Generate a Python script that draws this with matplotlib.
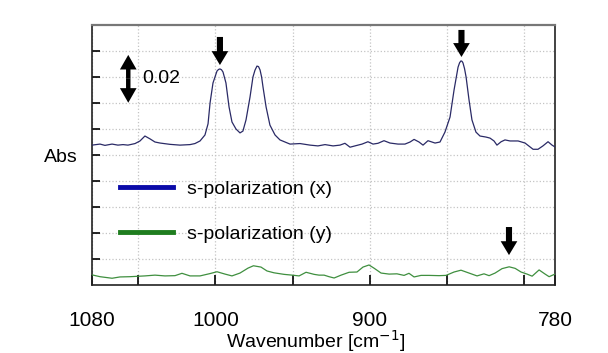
import matplotlib
matplotlib.use("Agg")

import matplotlib.pyplot as plt
from matplotlib.lines import Line2D

plt.rcParams["font.family"] = ["Liberation Sans", "DejaVu Sans"]

# s-polarization (x): wavenumber [cm-1] and absorbance
wn_x = [
    1080.0, 1074.8, 1071.6, 1067.0, 1063.2, 1059.9, 1056.7, 1052.1, 1048.9, 1045.7,
    1042.4, 1039.2, 1035.9, 1029.5, 1023.0, 1016.5, 1013.3, 1010.0, 1006.8, 1004.8,
    1003.5, 1001.6, 999.0, 998.0, 997.1, 996.1, 995.1, 993.2, 991.2, 989.3,
    986.7, 984.1, 982.2, 980.2, 977.6, 975.7, 974.4, 973.1, 972.1, 971.1,
    970.1, 969.2, 967.2, 964.7, 961.4, 958.2, 951.7, 945.2, 938.7, 933.6,
    929.0, 923.8, 919.3, 916.1, 912.8, 909.6, 905.0, 901.2, 897.9, 894.7,
    890.8, 886.9, 881.7, 877.2, 873.9, 871.3, 868.1, 865.5, 862.3, 857.7,
    854.5, 851.3, 848.0, 845.4, 842.8, 841.8, 840.9, 840.2, 839.6, 838.6,
    837.6, 835.7, 833.8, 831.2, 828.6, 824.7, 822.1, 819.5, 817.6, 814.9,
    812.4, 809.1, 803.9, 799.4, 794.2, 791.0, 787.8, 784.5, 781.9, 780.0,
]
abs_x = [
    0.0538, 0.0542, 0.0537, 0.0542, 0.0538, 0.0540, 0.0538, 0.0544, 0.0554, 0.0573,
    0.0562, 0.0550, 0.0546, 0.0541, 0.0538, 0.0540, 0.0544, 0.0554, 0.0577, 0.0620,
    0.0700, 0.0777, 0.0823, 0.0829, 0.0831, 0.0828, 0.0819, 0.0777, 0.0685, 0.0627,
    0.0600, 0.0585, 0.0592, 0.0635, 0.0723, 0.0800, 0.0826, 0.0842, 0.0840, 0.0827,
    0.0800, 0.0762, 0.0685, 0.0615, 0.0577, 0.0558, 0.0542, 0.0544, 0.0538, 0.0535,
    0.0540, 0.0535, 0.0538, 0.0545, 0.0530, 0.0535, 0.0542, 0.0551, 0.0542, 0.0545,
    0.0555, 0.0546, 0.0542, 0.0542, 0.0550, 0.0560, 0.0550, 0.0538, 0.0555, 0.0546,
    0.0550, 0.0588, 0.0646, 0.0750, 0.0838, 0.0855, 0.0862, 0.0860, 0.0854, 0.0832,
    0.0800, 0.0712, 0.0635, 0.0588, 0.0573, 0.0569, 0.0565, 0.0554, 0.0538, 0.0551,
    0.0558, 0.0554, 0.0554, 0.0546, 0.0522, 0.0522, 0.0535, 0.0551, 0.0538, 0.0531,
]

# s-polarization (y)
wn_y = [
    1080.0, 1074.8, 1067.0, 1061.9, 1055.4, 1045.7, 1039.2, 1032.7, 1026.2, 1021.7,
    1016.5, 1010.0, 1003.5, 999.0, 993.8, 989.3, 984.1, 978.9, 975.4, 970.5,
    966.6, 962.1, 955.6, 950.4, 945.8, 941.3, 936.1, 932.9, 929.6, 926.4,
    923.1, 918.6, 913.4, 908.3, 904.4, 900.5, 897.3, 892.7, 887.5, 882.4,
    877.8, 874.6, 871.3, 866.8, 861.6, 855.1, 850.6, 845.4, 840.9, 835.7,
    830.5, 826.0, 822.7, 818.8, 814.3, 809.7, 805.8, 802.0, 798.1, 794.8,
    790.3, 786.4, 783.8, 780.0,
]
abs_y = [
    0.0039, 0.0032, 0.0026, 0.0031, 0.0032, 0.0035, 0.0038, 0.0035, 0.0036, 0.0045,
    0.0035, 0.0035, 0.0044, 0.0051, 0.0042, 0.0035, 0.0046, 0.0065, 0.0074, 0.0069,
    0.0054, 0.0047, 0.0041, 0.0038, 0.0035, 0.0049, 0.0041, 0.0038, 0.0038, 0.0032,
    0.0027, 0.0038, 0.0049, 0.0050, 0.0069, 0.0077, 0.0065, 0.0046, 0.0042, 0.0043,
    0.0037, 0.0045, 0.0031, 0.0037, 0.0037, 0.0036, 0.0037, 0.0050, 0.0057, 0.0046,
    0.0035, 0.0043, 0.0036, 0.0046, 0.0063, 0.0070, 0.0064, 0.0050, 0.0042, 0.0034,
    0.0058, 0.0042, 0.0032, 0.0042,
]

labelled_ticks = [1080, 1000, 900, 780]
minor_ticks = [1050, 950, 850, 800]
y_grid = [0.01, 0.02, 0.03, 0.04, 0.05, 0.06, 0.07, 0.08, 0.09]

fig = plt.figure(figsize=(6.08, 3.53), dpi=100)
ax = fig.add_axes([0.1513, 0.1926, 0.7615, 0.7366])

ax.plot(wn_x, abs_x, color="#2a2a66", lw=0.9, zorder=3)
ax.plot(wn_y, abs_y, color="#3f8f3f", lw=0.9, zorder=3)

ax.set_xlim(1080, 780)
ax.set_ylim(0, 0.1)

ax.set_xticks(labelled_ticks)
ax.set_xticklabels([str(t) for t in labelled_ticks])
ax.set_xticks(minor_ticks, minor=True)
ax.set_yticks(y_grid)
ax.set_yticklabels([])
ax.tick_params(axis="x", which="both", direction="in", length=7, width=1.2,
               pad=19, labelsize=15)
ax.tick_params(axis="y", direction="in", length=5.5, width=1.2)

ax.grid(True, which="both", color="#c4c4c4", linestyle=":", linewidth=0.9)

for side in ("left", "right", "bottom"):
    ax.spines[side].set_linewidth(1.2)
    ax.spines[side].set_color("#222222")
ax.spines["top"].set_linewidth(1.6)
ax.spines["top"].set_color("#777777")

ax.set_xlabel(r"Wavenumber [cm$^{-1}$]", fontsize=14)
ax.xaxis.set_label_coords(0.484, -0.166)
ax.set_ylabel("Abs", fontsize=14, rotation=0, va="center", ha="center")
ax.yaxis.set_label_coords(-0.067, 0.492)

# peak markers
down_arrows = [(997.1, 0.0954, 0.0846), (840.6, 0.0981, 0.0877), (809.8, 0.0223, 0.0115)]
style = "simple,head_width=1.2,head_length=1.0,tail_width=0.44"
for x, y0, y1 in down_arrows:
    ax.annotate("", xy=(x, y1), xytext=(x, y0),
                arrowprops=dict(arrowstyle=style, color="black", lw=0,
                                shrinkA=0, shrinkB=0, mutation_scale=10))

# 0.02 scale bar
bar_x, bar_mid, bar_lo, bar_hi = 1056.5, 0.0793, 0.0701, 0.0885
bar_style = "simple,head_width=1.2,head_length=1.05,tail_width=0.32"
for tip in (bar_lo, bar_hi):
    ax.annotate("", xy=(bar_x, tip), xytext=(bar_x, bar_mid),
                arrowprops=dict(arrowstyle=bar_style, color="black", lw=0,
                                shrinkA=0, shrinkB=0, mutation_scale=10))
ax.text(1047.5, 0.0793, "0.02", fontsize=14, va="center", ha="left")

handles = [Line2D([], [], color="#0a0aa8", lw=3.5),
           Line2D([], [], color="#1f7d1f", lw=3.5)]
ax.legend(handles, ["s-polarization (x)", "s-polarization (y)"],
          loc="upper left", bbox_to_anchor=(0.06, 0.404), frameon=False,
          fontsize=14, handlelength=2.75, handletextpad=0.7,
          labelspacing=1.42, borderpad=0, borderaxespad=0)

fig.savefig("out.png", dpi=100)
